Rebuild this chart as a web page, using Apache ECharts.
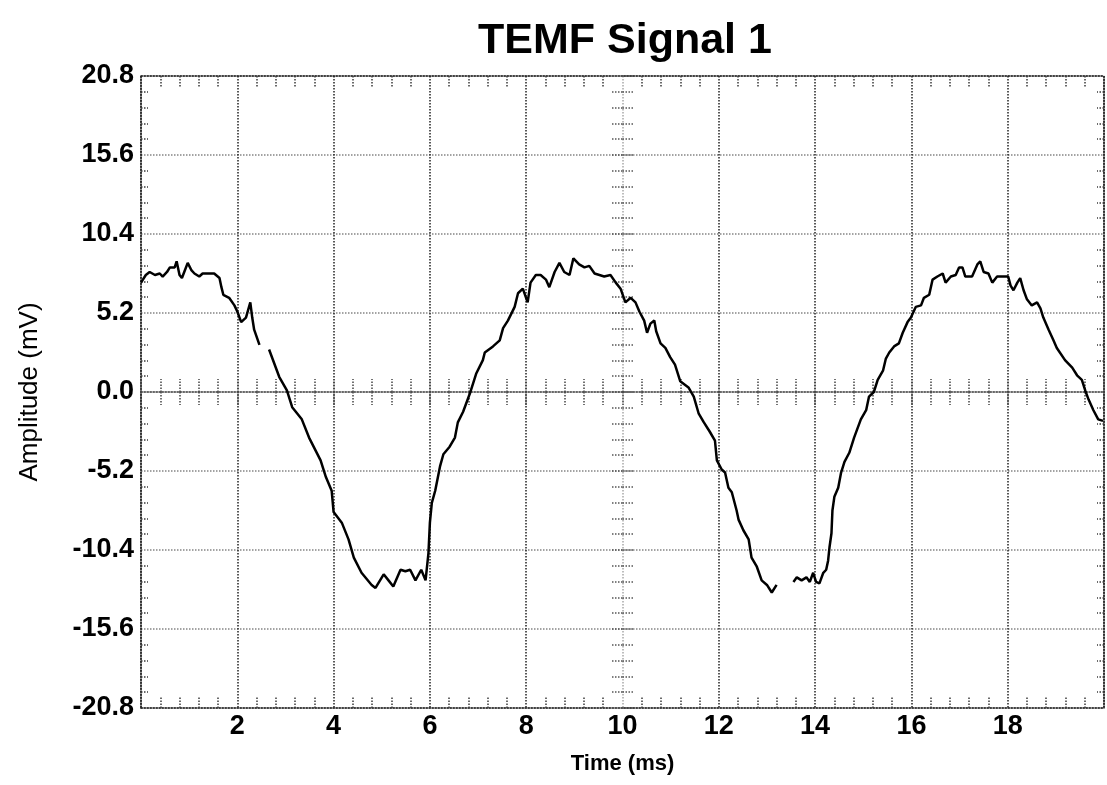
<!DOCTYPE html>
<html>
<head>
<meta charset="utf-8">
<title>TEMF Signal 1</title>
<script src="https://cdn.jsdelivr.net/npm/echarts@6/dist/echarts.min.js"></script>
<style>
  html, body { margin: 0; padding: 0; background: #fff; }
  #chart { width: 1107px; height: 785px; }
</style>
</head>
<body>
<div id="chart"></div>
<script>
// Sampled back-EMF trace: time in ms, amplitude in mV (null marks a dropout)
const timeMs = [
  0.00, 0.10, 0.18, 0.29, 0.39, 0.45, 0.54, 0.60, 0.70, 0.74, 0.80, 0.85, 0.91, 0.97,
  1.05, 1.11, 1.21, 1.28, 1.42, 1.52, 1.63, 1.67, 1.71, 1.83, 1.94, 2.00, 2.08, 2.18,
  2.27, 2.31, 2.35, 2.46, 2.56, 2.66, 2.87, 3.03, 3.14, 3.34, 3.49, 3.73, 3.84, 3.96,
  4.00, 4.17, 4.31, 4.42, 4.58, 4.79, 4.87, 5.04, 5.14, 5.24, 5.39, 5.49, 5.59, 5.70,
  5.82, 5.91, 5.97, 6.00, 6.04, 6.11, 6.21, 6.28, 6.41, 6.52, 6.58, 6.69, 6.83, 6.96,
  7.10, 7.14, 7.31, 7.45, 7.52, 7.62, 7.76, 7.83, 7.93, 8.03, 8.09, 8.20, 8.30, 8.41,
  8.48, 8.59, 8.69, 8.79, 8.90, 8.98, 9.10, 9.21, 9.31, 9.42, 9.62, 9.75, 9.86, 9.96,
  10.06, 10.17, 10.27, 10.35, 10.45, 10.51, 10.58, 10.66, 10.70, 10.79, 10.89, 10.99,
  11.09, 11.20, 11.37, 11.48, 11.58, 11.69, 11.81, 11.92, 11.96, 12.06, 12.13, 12.20,
  12.27, 12.37, 12.41, 12.51, 12.62, 12.68, 12.79, 12.89, 13.00, 13.10, 13.20, 13.38,
  13.55, 13.62, 13.72, 13.82, 13.89, 13.96, 14.02, 14.09, 14.17, 14.23, 14.27, 14.30,
  14.34, 14.36, 14.40, 14.48, 14.54, 14.61, 14.71, 14.81, 14.95, 15.06, 15.12, 15.22,
  15.30, 15.41, 15.47, 15.54, 15.64, 15.74, 15.82, 15.92, 15.99, 16.09, 16.20, 16.26,
  16.37, 16.44, 16.54, 16.65, 16.71, 16.82, 16.92, 16.99, 17.06, 17.12, 17.26, 17.37,
  17.43, 17.50, 17.60, 17.68, 17.78, 17.88, 18.01, 18.06, 18.12, 18.20, 18.26, 18.33,
  18.40, 18.50, 18.61, 18.68, 18.74, 18.85, 18.95, 19.02, 19.19, 19.34, 19.44, 19.54,
  19.61, 19.68, 19.78, 19.88, 19.98
];
const amplitudeMv = [
  7.2, 7.7, 7.9, 7.7, 7.8, 7.6, 7.9, 8.2, 8.2, 8.6, 7.7, 7.5, 8.0, 8.5,
  8.0, 7.8, 7.6, 7.8, 7.8, 7.8, 7.5, 6.9, 6.4, 6.2, 5.7, 5.3, 4.6, 4.9,
  5.9, 4.9, 4.1, 3.1, null, 2.8, 1.0, 0.1, -1.0, -1.8, -3.0, -4.5, -5.6, -6.5,
  -7.9, -8.6, -9.7, -10.9, -11.9, -12.7, -12.9, -12.0, -12.4, -12.8, -11.7, -11.8, -11.7, -12.4,
  -11.7, -12.4, -10.6, -8.6, -7.3, -6.5, -4.9, -4.1, -3.6, -3.0, -2.0, -1.3, -0.1, 1.2,
  2.1, 2.6, 3.0, 3.4, 4.2, 4.7, 5.6, 6.5, 6.8, 5.9, 7.2, 7.7, 7.7, 7.4,
  6.9, 7.9, 8.5, 7.9, 7.7, 8.8, 8.4, 8.2, 8.3, 7.8, 7.6, 7.7, 7.2, 6.8,
  5.9, 6.2, 5.9, 5.3, 4.7, 3.9, 4.5, 4.7, 4.0, 3.2, 2.9, 2.3,
  1.8, 0.7, 0.3, -0.3, -1.4, -2.0, -2.6, -3.2, -4.5, -5.1, -5.3, -6.3,
  -6.6, -7.8, -8.4, -9.1, -9.7, -10.9, -11.5, -12.4, -12.7, -13.2, -12.7, null,
  -12.5, -12.2, -12.4, -12.2, -12.5, -11.9, -12.5, -12.6, -11.9, -11.7, -11.1, -10.2,
  -9.3, -7.8, -6.9, -6.3, -5.3, -4.6, -4.0, -3.0, -1.8, -1.2, -0.3, 0.0,
  0.8, 1.4, 2.2, 2.6, 3.0, 3.2, 3.9, 4.6, 4.9, 5.6, 5.7, 6.2,
  6.4, 7.4, 7.6, 7.8, 7.2, 7.6, 7.7, 8.2, 8.2, 7.6, 7.6, 8.4,
  8.6, 7.9, 7.8, 7.2, 7.6, 7.6, 7.6, 7.0, 6.7, 7.2, 7.5, 6.7,
  6.1, 5.7, 5.9, 5.5, 4.9, 4.1, 3.4, 2.9, 2.1, 1.6, 1.1, 0.8,
  0.1, -0.5, -1.2, -1.8, -1.9
];

// Axis ranges and labelled ticks
const timeRange = [0, 20];
const timeStep = 2;
const timeTickLabels = [2, 4, 6, 8, 10, 12, 14, 16, 18];
const ampRange = [-20.8, 20.8];
const ampStep = 5.2;
const ampTickLabels = [20.8, 15.6, 10.4, 5.2, 0.0, -5.2, -10.4, -15.6, -20.8];

const FONT = '"Liberation Sans", Arial, Helvetica, sans-serif';
const gridDark = '#222';
const gridGrey = '#858585';
const tickDark = '#3a3a3a';

const chart = echarts.init(document.getElementById('chart'), null, { renderer: 'canvas' });

// one split-line colour per 2 ms line; the centre (10 ms) line is lighter
const vLineColors = [];
for (let t = timeRange[0]; t <= timeRange[1] + 1e-9; t += timeStep) {
  vLineColors.push(Math.abs(t - 10) < 1e-6 ? '#a8a8a8' : gridDark);
}

const hiddenLabel = { show: false };
const edgeLine = { onZero: false, lineStyle: { color: gridDark, width: 1.5, type: 'dotted' } };

const data = timeMs.map((t, i) => [t, amplitudeMv[i]]);

chart.setOption({
  backgroundColor: '#ffffff',
  animation: false,
  title: {
    text: 'TEMF Signal 1',
    left: 620,
    top: 15,
    textAlign: 'center',
    textStyle: { fontFamily: FONT, fontSize: 43, fontWeight: 'bold', color: '#000' }
  },
  grid: { left: 141, width: 968, top: 76, bottom: 77, containLabel: false },
  xAxis: [
    // main time axis along the bottom edge
    {
      type: 'value', position: 'bottom',
      min: timeRange[0], max: timeRange[1], interval: timeStep,
      name: 'Time (ms)', nameLocation: 'middle', nameGap: 45,
      nameTextStyle: { fontFamily: FONT, fontSize: 22, fontWeight: 'bold', color: '#000' },
      axisLine: edgeLine,
      axisTick: { show: false, inside: true },
      minorTick: { show: true, splitNumber: 5, length: 12, lineStyle: { color: tickDark, width: 1.5, type: 'dotted' } },
      axisLabel: {
        margin: 5, fontFamily: FONT, fontSize: 27, fontWeight: 'bold', color: '#000',
        formatter: v => timeTickLabels.some(l => Math.abs(l - v) < 1e-6) ? String(v) : ''
      },
      splitLine: { show: true, lineStyle: { color: vLineColors, width: 1.5, type: 'dotted' } }
    },
    // top edge ticks
    {
      type: 'value', position: 'top',
      min: timeRange[0], max: timeRange[1], interval: timeStep,
      axisLine: edgeLine,
      axisTick: { show: false, inside: true },
      minorTick: { show: true, splitNumber: 5, length: 12, lineStyle: { color: tickDark, width: 1.5, type: 'dotted' } },
      axisLabel: hiddenLabel, splitLine: { show: false }
    },
    // ticks across the zero line (upper half)
    {
      type: 'value', position: 'bottom',
      min: timeRange[0], max: timeRange[1], interval: 0.4,
      axisLine: { show: true, onZero: true, onZeroAxisIndex: 0, lineStyle: { color: '#555', width: 1.5, type: 'dotted' } },
      axisTick: { show: true, inside: true, length: 13, lineStyle: { color: '#444', width: 1.5, type: 'dotted' } },
      axisLabel: hiddenLabel, splitLine: { show: false }
    },
    // ticks across the zero line (lower half)
    {
      type: 'value', position: 'bottom',
      min: timeRange[0], max: timeRange[1], interval: 0.4,
      axisLine: { show: false, onZero: true, onZeroAxisIndex: 0 },
      axisTick: { show: true, inside: false, length: 13, lineStyle: { color: '#444', width: 1.5, type: 'dotted' } },
      axisLabel: hiddenLabel, splitLine: { show: false }
    },
    // centred reference scale: its zero sits at 10 ms, used to anchor the centre ticks
    {
      type: 'value', show: false, position: 'bottom',
      min: timeRange[0] - 10, max: timeRange[1] - 10,
      axisLine: { onZero: false }
    }
  ],
  yAxis: [
    // main amplitude axis on the left edge
    {
      type: 'value', position: 'left',
      min: ampRange[0], max: ampRange[1], interval: ampStep,
      name: 'Amplitude (mV)', nameLocation: 'middle', nameGap: 98, nameRotate: 90,
      nameTextStyle: { fontFamily: FONT, fontSize: 26, color: '#000' },
      axisLine: edgeLine,
      axisTick: { show: false, inside: true },
      minorTick: { show: true, splitNumber: 5, length: 7, lineStyle: { color: tickDark, width: 1.5, type: 'dotted' } },
      axisLabel: {
        margin: 7, fontFamily: FONT, fontSize: 27, fontWeight: 'bold', color: '#000',
        formatter: v => {
          const hit = ampTickLabels.find(l => Math.abs(l - v) < 1e-6);
          return hit === undefined ? '' : hit.toFixed(1);
        }
      },
      splitLine: { show: true, lineStyle: { color: gridGrey, width: 1.5, type: 'dotted' } }
    },
    // right edge ticks
    {
      type: 'value', position: 'right',
      min: ampRange[0], max: ampRange[1], interval: ampStep,
      axisLine: edgeLine,
      axisTick: { show: false, inside: true },
      minorTick: { show: true, splitNumber: 5, length: 7, lineStyle: { color: tickDark, width: 1.5, type: 'dotted' } },
      axisLabel: hiddenLabel, splitLine: { show: false }
    },
    // ticks across the 10 ms centre line (right half)
    {
      type: 'value', position: 'left',
      min: ampRange[0], max: ampRange[1], interval: ampStep / 5,
      axisLine: { show: false, onZero: true, onZeroAxisIndex: 4 },
      axisTick: { show: true, inside: true, length: 12, lineStyle: { color: '#555', width: 1.5, type: 'dotted' } },
      axisLabel: hiddenLabel, splitLine: { show: false }
    },
    // ticks across the 10 ms centre line (left half)
    {
      type: 'value', position: 'left',
      min: ampRange[0], max: ampRange[1], interval: ampStep / 5,
      axisLine: { show: false, onZero: true, onZeroAxisIndex: 4 },
      axisTick: { show: true, inside: false, length: 12, lineStyle: { color: '#555', width: 1.5, type: 'dotted' } },
      axisLabel: hiddenLabel, splitLine: { show: false }
    }
  ],
  series: [
    {
      name: 'TEMF Signal 1',
      type: 'line',
      xAxisIndex: 0,
      yAxisIndex: 0,
      data: data,
      showSymbol: false,
      symbol: 'none',
      connectNulls: false,
      lineStyle: { color: '#000', width: 2.5 },
      z: 5
    }
  ]
});
</script>
</body>
</html>
